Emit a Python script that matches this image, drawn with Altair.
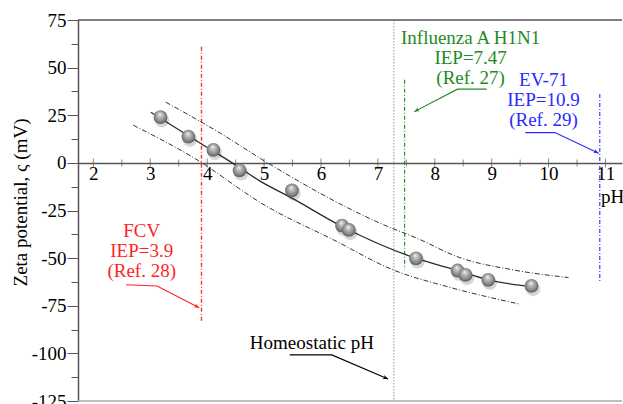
import math
import altair as alt
import pandas as pd

# ---- measured zeta potential vs pH ----
ph_meas = [3.18, 3.67, 4.11, 4.57, 5.49, 6.37, 6.49, 7.67, 8.40, 8.54, 8.94, 9.70]
zeta_meas = [24.0, 13.8, 6.8, -3.9, -14.5, -32.9, -35.2, -50.1, -56.5, -58.8, -61.4, -64.6]

# ---- fitted curve and confidence band ----
fit_ph = [3.01, 3.88, 4.44, 4.93, 5.49, 6.37, 7.65, 8.40, 8.94, 9.79]
fit_zeta = [26.6, 10.3, 0.0, -9.6, -18.5, -33.4, -49.9, -56.5, -61.4, -65.2]
upper_ph = [3.27, 4.23, 5.05, 7.04, 7.75, 8.39, 9.38, 10.35]
upper_zeta = [31.9, 15.6, 0.2, -31.7, -40.4, -49.2, -56.2, -60.2]
lower_ph = [2.70, 3.73, 5.05, 6.22, 7.27, 8.21, 9.47]
lower_zeta = [19.8, 3.3, -22.9, -40.4, -56.2, -64.9, -74.0]

# ---- isoelectric points of viruses ----
iep_names = ["FCV", "Influenza A H1N1", "EV-71"]
iep_values = [3.9, 7.47, 10.9]
iep_top = [61.0, 43.6, 36.2]
iep_bottom = [-83.3, -55.8, -63.0]
iep_colors = ["#ff3030", "#1f8a1f", "#2a2aff"]
iep_widths = [1.4, 1.1, 1.1]
homeostatic_ph = 7.28

# ---- annotation texts ----
label_lines = [
    ["FCV", "IEP=3.9", "(Ref. 28)"],
    ["Influenza A H1N1", "IEP=7.47", "(Ref. 27)"],
    ["EV-71", "IEP=10.9", "(Ref. 29)"],
    ["Homeostatic pH"],
]
label_x = [2.85, 8.63, 9.91, 5.84]
label_y = [[-35.8, -46.3, -56.8], [65.8, 55.3, 44.8], [43.5, 33.0, 22.5], [-94.6]]
label_colors = ["#ff1f1f", "#1f8a1f", "#2a2aff", "#000000"]

# ---- leader arrows (tail, elbow, tip) ----
arrow_x = [[2.575, 3.12, 3.86], [8.91, 8.40, 7.64], [9.59, 10.11, 10.88], [5.45, 6.19, 7.18]]
arrow_y = [[-64.0, -64.6, -76.1], [38.7, 38.7, 26.9], [15.9, 15.9, 5.1], [-100.8, -100.8, -113.5]]

# ---- axes ----
x_labels = [2, 3, 4, 5, 6, 7, 8, 9, 10, 11]
x_ticks = [v / 2 for v in range(4, 23)]
y_ticks = [-125 + 12.5 * i for i in range(17)]

X_DOMAIN = [1.73, 11.29]
Y_DOMAIN = [-125, 75]
W, H = 544, 381
FONT = "Liberation Serif"
FS = 19
AXIS_GRAY = "#555555"

sx = W / (X_DOMAIN[1] - X_DOMAIN[0])
sy = H / (Y_DOMAIN[1] - Y_DOMAIN[0])
zero_from_bottom = (0 - Y_DOMAIN[0]) * sy

x_scale = alt.Scale(domain=X_DOMAIN, nice=False, zero=False)
y_scale = alt.Scale(domain=Y_DOMAIN, nice=False, zero=False)

x_axis = alt.Axis(
    values=x_labels, format="d", ticks=False, grid=False,
    domainColor=AXIS_GRAY, domainWidth=1.5, offset=-zero_from_bottom,
    labelFont=FONT, labelFontSize=FS, labelColor="black", labelPadding=2,
    labelFlush=False, labelOverlap=False,
    title="pH", titleFont=FONT, titleFontSize=FS, titleFontWeight="normal",
    titleColor="black", titleX=534, titleY=34, titleAlign="center",
    titleBaseline="middle", titleAngle=0,
)
y_axis = alt.Axis(
    values=y_ticks, grid=False, domainColor=AXIS_GRAY, domainWidth=1.5,
    tickColor=AXIS_GRAY, tickWidth=1,
    tickSize={"condition": {"test": "datum.value % 25 === 0", "value": 11}, "value": 7},
    labelExpr="datum.value % 25 === 0 ? toString(datum.value) : ''",
    labelFont=FONT, labelFontSize=FS, labelColor="black", labelPadding=1,
    labelOverlap=False, labelFlush=False,
    title="Zeta potential, \u03c2 (mV)", titleFont=FONT, titleFontSize=FS,
    titleFontWeight="normal", titleColor="black", titleX=-58, titleY=182,
    titleAngle=270, titleAlign="center", titleBaseline="middle",
)


def X(field="x"):
    return alt.X(f"{field}:Q", scale=x_scale, axis=x_axis)


def Y(field="y"):
    return alt.Y(f"{field}:Q", scale=y_scale, axis=y_axis)


# ---- tables ----
points = pd.DataFrame({"x": ph_meas, "y": zeta_meas})
fit = pd.DataFrame({"x": fit_ph, "y": fit_zeta, "o": range(len(fit_ph))})
band = pd.concat([
    pd.DataFrame({"x": upper_ph, "y": upper_zeta, "band": "upper", "o": range(len(upper_ph))}),
    pd.DataFrame({"x": lower_ph, "y": lower_zeta, "band": "lower", "o": range(len(lower_ph))}),
])
ticks = pd.DataFrame({"x": x_ticks, "y": [0.0] * len(x_ticks),
                      "major": [float(v).is_integer() for v in x_ticks]})

# ---- frame and reference lines ----
layers = [
    alt.Chart(pd.DataFrame({"x": [homeostatic_ph]})).mark_rule(
        color="#bdbdbd", strokeWidth=1.6, strokeDash=[1.5, 1.5]).encode(x=X()),
    alt.Chart(pd.DataFrame({"y": [Y_DOMAIN[1]]})).mark_rule(
        color="#555555", strokeWidth=1.5).encode(y=Y()),
    alt.Chart(pd.DataFrame({"y": [Y_DOMAIN[0]]})).mark_rule(
        color="#aaaaaa", strokeWidth=1.5).encode(y=Y()),
]
for name, v, top, bot, col, sw in zip(iep_names, iep_values, iep_top, iep_bottom,
                                      iep_colors, iep_widths):
    layers.append(
        alt.Chart(pd.DataFrame({"name": [name], "x": [v], "y": [top], "y2": [bot]}))
        .mark_rule(color=col, strokeWidth=sw, strokeDash=[4, 2, 1, 2])
        .encode(x=X(), y=Y(), y2="y2:Q")
    )

layers += [
    alt.Chart(ticks[ticks.major]).mark_tick(
        orient="vertical", size=9, thickness=1, color=AXIS_GRAY).encode(x=X(), y=Y()),
    alt.Chart(ticks[~ticks.major]).mark_tick(
        orient="vertical", size=7, thickness=1, color=AXIS_GRAY).encode(x=X(), y=Y()),
    alt.Chart(band).mark_line(
        color="#333333", strokeWidth=1, strokeDash=[5, 2, 1, 2], interpolate="monotone"
    ).encode(x=X(), y=Y(), detail="band:N", order="o:Q"),
    alt.Chart(fit).mark_line(
        color="#2b2b2b", strokeWidth=1.3, interpolate="monotone"
    ).encode(x=X(), y=Y(), order="o:Q"),
    # soft shadow under each sphere
    alt.Chart(points).mark_point(
        shape="circle", filled=True, size=210, color="#000000", opacity=0.16,
        xOffset=1.5, yOffset=3, strokeWidth=0).encode(x=X(), y=Y()),
]

sphere_fill = {
    "gradient": "radial",
    "x1": 0.45, "y1": 0.28, "r1": 0.0,
    "x2": 0.5, "y2": 0.5, "r2": 0.62,
    "stops": [
        {"offset": 0.0, "color": "#ffffff"},
        {"offset": 0.22, "color": "#c4c4c4"},
        {"offset": 0.65, "color": "#858585"},
        {"offset": 1.0, "color": "#3a3a3a"},
    ],
}
layers.append(
    alt.Chart(points).mark_point(
        shape="circle", filled=True, size=190, fill=sphere_fill, opacity=1,
        strokeWidth=0).encode(x=X(), y=Y())
)

# ---- annotation arrows and texts ----
for i, (ax, ay) in enumerate(zip(arrow_x, arrow_y)):
    col = label_colors[i]
    seg = pd.DataFrame({"x": ax, "y": ay, "o": range(len(ax))})
    layers.append(
        alt.Chart(seg).mark_line(color=col, strokeWidth=1.1).encode(x=X(), y=Y(), order="o:Q")
    )
    dx = (ax[-1] - ax[-2]) * sx
    dy = -(ay[-1] - ay[-2]) * sy
    ang = math.degrees(math.atan2(dy, dx)) % 360
    layers.append(
        alt.Chart(pd.DataFrame({"x": [ax[-1]], "y": [ay[-1]]})).mark_point(
            shape="M0,0 L-1,-0.4 L-0.72,0 L-1,0.4 Z", filled=True, size=110,
            fill=col, opacity=1, strokeWidth=0, angle=ang).encode(x=X(), y=Y())
    )
    lines = label_lines[i]
    txt = pd.DataFrame({"x": [label_x[i]] * len(lines), "y": label_y[i], "t": lines})
    layers.append(
        alt.Chart(txt).mark_text(
            font=FONT, fontSize=FS, align="center", baseline="middle", color=col
        ).encode(x=X(), y=Y(), text="t:N")
    )

chart = alt.layer(*layers).properties(
    width=W, height=H,
    autosize=alt.AutoSizeParams(type="none"),
    padding={"left": 78, "top": 20, "right": 1, "bottom": 3},
    background="white",
).configure_view(stroke=None)

chart.save("out.html", embed_options={"renderer": "svg", "actions": False})
